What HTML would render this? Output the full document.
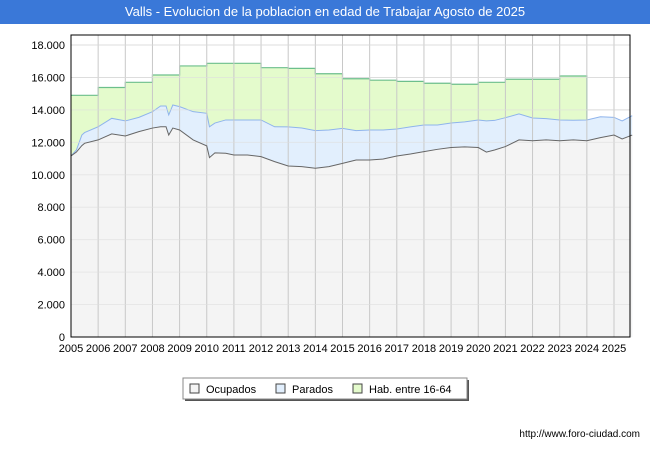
<!DOCTYPE html>
<html><head><meta charset="utf-8"><style>
body{margin:0;width:650px;height:450px;background:#fff;font-family:"Liberation Sans",sans-serif;overflow:hidden}
#title{position:absolute;left:0;top:0;width:650px;height:24px;background:#3a78d8;color:#fff;font-size:13px;line-height:24px;text-align:center}
</style></head><body>
<div id="title">Valls - Evolucion de la poblacion en edad de Trabajar Agosto de 2025</div>
<svg id="c" width="650" height="450" style="position:absolute;left:0;top:0"></svg>
<script>
const habYears=[2005,2006,2007,2008,2009,2010,2011,2012,2013,2014,2015,2016,2017,2018,2019,2020,2021,2022,2023];
const habValues=[14900,15380,15700,16150,16710,16870,16870,16600,16560,16230,15920,15830,15760,15640,15580,15700,15890,15890,16090];
const times=[2005.0,2005.2,2005.4,2005.5,2006,2006.5,2007,2007.5,2008,2008.3,2008.5,2008.6,2008.75,2009,2009.5,2010,2010.1,2010.3,2010.7,2011,2011.5,2012,2012.5,2013,2013.5,2014,2014.5,2015,2015.5,2016,2016.5,2017,2017.5,2018,2018.5,2019,2019.5,2020,2020.3,2020.6,2021,2021.5,2022,2022.5,2023,2023.5,2024,2024.5,2025,2025.3,2025.67];
const ocupados=[11160,11400,11800,11940,12150,12520,12390,12660,12880,12960,12960,12450,12880,12760,12150,11780,11060,11350,11330,11220,11220,11120,10810,10540,10500,10400,10500,10700,10910,10910,10970,11160,11280,11430,11570,11680,11720,11680,11400,11530,11740,12150,12100,12150,12100,12150,12100,12290,12450,12210,12450];
const activos=[11160,11530,12450,12600,12960,13480,13320,13540,13890,14240,14240,13690,14300,14200,13890,13790,12960,13190,13380,13380,13380,13380,12960,12950,12880,12720,12760,12860,12720,12760,12760,12820,12950,13070,13070,13190,13260,13380,13320,13350,13520,13750,13500,13460,13380,13360,13380,13580,13540,13320,13640];
const yTicks=[0,2000,4000,6000,8000,10000,12000,14000,16000,18000];
const xTicks=[2005,2006,2007,2008,2009,2010,2011,2012,2013,2014,2015,2016,2017,2018,2019,2020,2021,2022,2023,2024,2025];
const L=71,R=630,T=35,B=337;
const X=t=>L+(t-2005)*(614-71)/20;
const Y=v=>B-v*(292/18000);
const ns="http://www.w3.org/2000/svg",svg=document.getElementById('c');
function mk(tag,a,p){const e=document.createElementNS(ns,tag);for(const k in a)e.setAttribute(k,a[k]);(p||svg).appendChild(e);return e;}
const bg=mk('rect',{x:L,y:T,width:R-L,height:B-T,fill:'#fff'});


// gridlines
yTicks.forEach(v=>{const g=mk('line',{x1:L,x2:R,y1:Y(v),y2:Y(v),stroke:'#ddd'});


const t=mk('text',{x:L-6,y:Y(v)+4,'text-anchor':'end','font-size':'11',fill:'#000'});t.textContent=v.toLocaleString('de-DE');

});
// hab area
let hp=`M${X(habYears[0])},${Y(habValues[0])}`;
habYears.forEach((y,i)=>{hp+=` L${X(y)},${Y(habValues[i])} L${X(y+1)},${Y(habValues[i])}`;});
const habEnd=habYears[habYears.length-1]+1;
const ha=mk('path',{d:hp+` L${X(habEnd)},${B} L${X(2005)},${B} Z`,fill:'#e4fbcc',stroke:'none'});


const hl=mk('path',{d:hp+` L${X(habEnd)},${Y(activos[times.findIndex(t=>t>=habEnd)])}`,fill:'none',stroke:'#6cbf8c','stroke-width':1.2});


// activos
let ap=times.map((t,i)=>(i?'L':'M')+X(t)+','+Y(activos[i])).join(' ');
const aa=mk('path',{d:ap+` L${X(times[times.length-1])},${B} L${X(times[0])},${B} Z`,fill:'#e2effd'});


const al=mk('path',{d:ap,fill:'none',stroke:'#8fb4ec','stroke-width':1});


let op=times.map((t,i)=>(i?'L':'M')+X(t)+','+Y(ocupados[i])).join(' ');
const oa=mk('path',{d:op+` L${X(times[times.length-1])},${B} L${X(times[0])},${B} Z`,fill:'#f4f4f4'});


// x grid on top
xTicks.forEach(t=>{const g=mk('line',{x1:X(t),x2:X(t),y1:T,y2:B,stroke:'#c8c8c8'});


const tx=mk('text',{x:X(t),y:B+15,'text-anchor':'middle','font-size':'11',fill:'#000'});tx.textContent=t;

});
yTicks.forEach(v=>{const g=mk('line',{x1:L,x2:R,y1:Y(v),y2:Y(v),stroke:'#ddd','stroke-opacity':0.6});

});
const ol=mk('path',{d:op,fill:'none',stroke:'#666','stroke-width':1});


const fr=mk('rect',{x:L,y:T,width:R-L,height:B-T,fill:'none',stroke:'#000'});


// legend
const lg=mk('g',{});


mk('rect',{x:185,y:380,width:284,height:21,fill:'#555'},lg);
mk('rect',{x:183,y:378,width:284,height:21,fill:'#fff',stroke:'#888'},lg);
[['Ocupados','#f4f4f4',190],['Parados','#e2effd',276],['Hab. entre 16-64','#e4fbcc',353]].forEach(([n,c,x])=>{
const e=mk('g',{},lg);


mk('rect',{x:x,y:384,width:9,height:9,fill:c,stroke:'#444'},e);
const t=mk('text',{x:x+16,y:393,'font-size':'11',fill:'#000'},e);t.textContent=n;});
const u=mk('text',{x:640,y:437,'text-anchor':'end','font-size':'10',fill:'#000'});u.textContent='http://www.foro-ciudad.com';


</script>
</body></html>
